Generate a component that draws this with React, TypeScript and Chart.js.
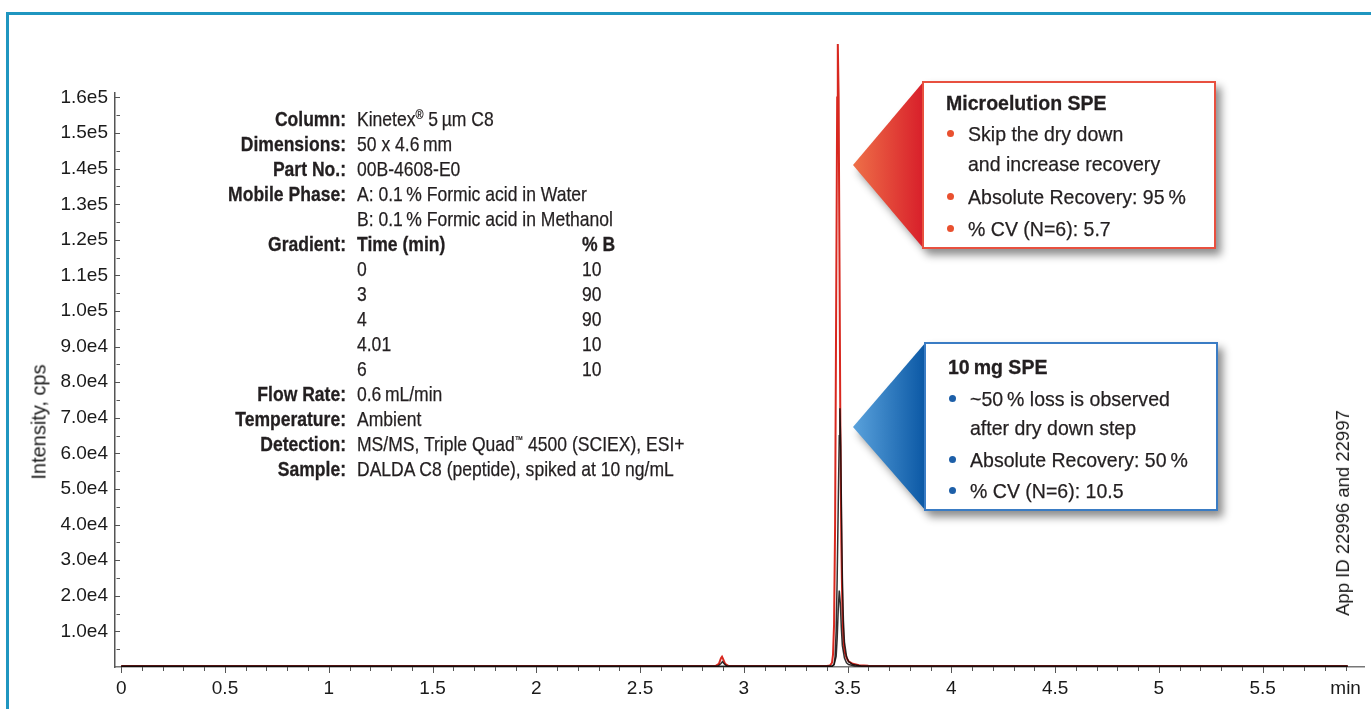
import React, { useEffect, useRef } from "react";
import { Chart, registerables } from "chart.js";
Chart.register(...registerables);

// ---------- data ----------
const microTimes = [0, 2.865, 2.88, 2.89, 2.895, 2.9, 2.91, 2.925, 3.4, 3.415, 3.425, 3.43, 3.435, 3.44, 3.445, 3.45, 3.453, 3.457, 3.461, 3.465, 3.47, 3.475, 3.48, 3.485, 3.495, 3.505, 3.525, 3.555, 3.6, 5.91];
const microValues = [300, 300, 900, 2500, 2900, 2300, 900, 300, 300, 400, 1200, 3500, 12000, 40000, 100000, 160000, 175000, 160000, 115000, 70000, 35000, 16000, 8000, 4500, 2500, 1600, 900, 500, 350, 300];

const spe10aTimes = [0, 2.875, 2.89, 2.897, 2.905, 2.92, 3.425, 3.435, 3.44, 3.445, 3.45, 3.455, 3.46, 3.463, 3.467, 3.471, 3.475, 3.48, 3.485, 3.495, 3.505, 3.525, 3.565, 5.91];
const spe10aValues = [200, 200, 1000, 1500, 900, 200, 200, 800, 3000, 10000, 25000, 45000, 65000, 72700, 62000, 42000, 25000, 13000, 7000, 3000, 1500, 700, 300, 200];

const spe10bTimes = [0, 3.425, 3.435, 3.445, 3.45, 3.455, 3.46, 3.465, 3.47, 3.475, 3.485, 3.495, 3.505, 3.535, 5.91];
const spe10bValues = [200, 200, 600, 3000, 8000, 16000, 21500, 18000, 11000, 6000, 2500, 1200, 700, 300, 200];

// tick positions / labels
const xTickValues = Array.from({ length: 60 }, (_, i) => i / 10); // 0 .. 5.9 every 0.1 min
const xLabelValues = [0, 0.5, 1, 1.5, 2, 2.5, 3, 3.5, 4, 4.5, 5, 5.5];
const xLabelTexts = ["0", "0.5", "1", "1.5", "2", "2.5", "3", "3.5", "4", "4.5", "5", "5.5"];
const xUnitValue = 5.9;
const xUnitText = "min";
const yTickValues = Array.from({ length: 33 }, (_, i) => i * 5000); // 0 .. 160000 every 5000
const yLabelValues = [10000, 20000, 30000, 40000, 50000, 60000, 70000, 80000, 90000, 100000, 110000, 120000, 130000, 140000, 150000, 160000];
const yLabelTexts = ["1.0e4", "2.0e4", "3.0e4", "4.0e4", "5.0e4", "6.0e4", "7.0e4", "8.0e4", "9.0e4", "1.0e5", "1.1e5", "1.2e5", "1.3e5", "1.4e5", "1.5e5", "1.6e5"];

const toPoints = (t: number[], v: number[]) => t.map((x, i) => ({ x, y: v[i] }));

const AXIS_FONT = "'Liberation Sans', Arial, Helvetica, sans-serif";
const TEXT = "#231f20";

const tickMarks = {
  id: "tickMarks",
  afterDraw(chart: any) {
    const { ctx } = chart;
    const x = chart.scales.x;
    const y = chart.scales.y;
    ctx.save();
    ctx.strokeStyle = "#555";
    ctx.lineWidth = 1;
    x.ticks.forEach((t: any) => {
      const px = Math.round(x.getPixelForValue(t.value)) + 0.5;
      const major = Math.abs(t.value * 2 - Math.round(t.value * 2)) < 1e-6;
      ctx.beginPath();
      ctx.moveTo(px, x.top);
      ctx.lineTo(px, x.top + (major ? 6 : 4));
      ctx.stroke();
    });
    y.ticks.forEach((t: any) => {
      if (t.value === 0) return;
      const py = Math.round(y.getPixelForValue(t.value)) + 0.5;
      const major = t.value % 10000 === 0;
      ctx.beginPath();
      ctx.moveTo(y.right + (major ? 0 : 1.5), py);
      ctx.lineTo(y.right + 5, py);
      ctx.stroke();
    });
    ctx.restore();
  },
};

// condensed text: Liberation Sans squeezed horizontally
function T({ x, cy, right, bold, sx, children }: { x: number; cy: number; right?: boolean; bold?: boolean; sx: number; children: React.ReactNode }) {
  const base: React.CSSProperties = {
    position: "absolute", top: cy - 12.5, height: 25, lineHeight: "25px", whiteSpace: "nowrap",
    fontWeight: bold ? 700 : 400, transform: `scaleX(${sx})`,
    WebkitTextStroke: bold ? "0.3px " + TEXT : "0.25px " + TEXT,
  };
  if (right) return <div style={{ ...base, left: x - 1000, width: 1000, textAlign: "right", transformOrigin: "right center" }}>{children}</div>;
  return <div style={{ ...base, left: x, transformOrigin: "left center" }}>{children}</div>;
}

const INFO_SX = 0.835;
const LABEL_X = 346;
const VALUE_X = 357;
const COL2_X = 582;

function Callout(props: {
  left: number; top: number; right: number; bottom: number; tipX: number; tipY: number;
  border: string; gradFrom: string; gradTo: string; dot: string;
  title: string; titleY: number; lines: { y: number; text: string; bullet: boolean }[];
}) {
  const { left, top, right, bottom, tipX, tipY, border, gradFrom, gradTo, dot, title, titleY, lines } = props;
  const SX = 0.93;
  return (
    <>
      <div style={{ position: "absolute", left: 0, top: 0, width: 1371, height: 709, filter: "drop-shadow(5px 6px 4px rgba(0,0,0,0.45))" }}>
        <div
          style={{
            position: "absolute", left: tipX, top: top, width: left - tipX + 2, height: bottom - top,
            background: `linear-gradient(to right, ${gradFrom}, ${gradTo})`,
            clipPath: `polygon(0px ${tipY - top}px, 100% 0px, 100% 100%)`,
          }}
        />
        <div style={{ position: "absolute", left, top, width: right - left, height: bottom - top, boxSizing: "border-box", border: `2px solid ${border}`, background: "#fff" }} />
      </div>
      <T x={left + 24} cy={titleY} bold sx={SX}>{title}</T>
      {lines.map((l, i) => (
        <React.Fragment key={i}>
          {l.bullet && <div style={{ position: "absolute", left: left + 24.5, top: l.y - 3.5, width: 7, height: 7, borderRadius: 3.5, background: dot }} />}
          <T x={left + 46} cy={l.y} sx={SX}>{l.text}</T>
        </React.Fragment>
      ))}
    </>
  );
}

export default function App() {
  const ref = useRef<HTMLCanvasElement>(null);
  useEffect(() => {
    const chart = new Chart(ref.current as HTMLCanvasElement, {
      type: "line",
      data: {
        datasets: [
          { label: "10 mg SPE (a)", data: toPoints(spe10aTimes, spe10aValues), borderColor: "rgba(15,10,10,0.85)", borderWidth: 1.5, pointRadius: 0, tension: 0, clip: false, order: 1 } as any,
          { label: "10 mg SPE (b)", data: toPoints(spe10bTimes, spe10bValues), borderColor: "rgba(15,10,10,0.85)", borderWidth: 1.5, pointRadius: 0, tension: 0, clip: false, order: 1 } as any,
          { label: "Microelution SPE", data: toPoints(microTimes, microValues), borderColor: "#d8281f", borderWidth: 2, pointRadius: 0, tension: 0, clip: false, order: 2 } as any,
        ],
      },
      options: {
        responsive: false,
        animation: false,
        layout: { padding: { top: 93, right: 5, bottom: 0, left: 0 } },
        plugins: { legend: { display: false }, tooltip: { enabled: false } },
        scales: {
          x: {
            type: "linear",
            min: -0.03,
            max: 5.99,
            afterFit: (s: any) => { s.height = 42; },
            afterBuildTicks: (s: any) => { s.ticks = xTickValues.map((v) => ({ value: v })); },
            grid: { display: false, drawTicks: false },
            border: { display: true, color: "#777", width: 1.5 },
            ticks: {
              autoSkip: false, maxRotation: 0, minRotation: 0, padding: 10,
              font: { family: AXIS_FONT, size: 19 }, color: "#1a1a1a",
              callback: (v: any) => {
                const n = Number(v);
                if (Math.abs(n - xUnitValue) < 1e-6) return xUnitText;
                const i = xLabelValues.findIndex((a) => Math.abs(a - n) < 1e-6);
                return i >= 0 ? xLabelTexts[i] : "";
              },
            },
          },
          y: {
            type: "linear",
            min: 0,
            max: 161260,
            afterFit: (s: any) => { s.width = 115; },
            afterBuildTicks: (s: any) => { s.ticks = yTickValues.map((v) => ({ value: v })); },
            grid: { display: false, drawTicks: false },
            border: { display: true, color: "#555", width: 1.5 },
            ticks: {
              autoSkip: false, padding: 7,
              font: { family: AXIS_FONT, size: 19 }, color: "#1a1a1a",
              callback: (v: any) => {
                const i = yLabelValues.indexOf(Math.round(Number(v)));
                return i >= 0 ? yLabelTexts[i] : "";
              },
            },
          },
        },
      },
      plugins: [tickMarks],
    } as any);
    return () => chart.destroy();
  }, []);

  const sup = (s: string, size = 13, top = -7) => <span style={{ fontSize: size, position: "relative", top }}>{s}</span>;

  const infoRows: { label?: string; value: React.ReactNode; bold?: boolean; col2?: string; col2Bold?: boolean }[] = [
    { label: "Column:", value: <>Kinetex{sup("®")} 5{"\u2009"}µm C8</> },
    { label: "Dimensions:", value: "50 x 4.6\u2009mm" },
    { label: "Part No.:", value: "00B-4608-E0" },
    { label: "Mobile Phase:", value: "A: 0.1\u2009% Formic acid in Water" },
    { value: "B: 0.1\u2009% Formic acid in Methanol" },
    { label: "Gradient:", value: "Time (min)", bold: true, col2: "% B", col2Bold: true },
    { value: "0", col2: "10" },
    { value: "3", col2: "90" },
    { value: "4", col2: "90" },
    { value: "4.01", col2: "10" },
    { value: "6", col2: "10" },
    { label: "Flow Rate:", value: "0.6\u2009mL/min" },
    { label: "Temperature:", value: "Ambient" },
    { label: "Detection:", value: <>MS/MS, Triple Quad{sup("™", 10, -8)} 4500 (SCIEX), ESI+</> },
    { label: "Sample:", value: "DALDA C8 (peptide), spiked at 10 ng/mL" },
  ];

  return (
    <div style={{ position: "fixed", left: 0, top: 0, width: 1371, height: 709, background: "#fff", overflow: "hidden", fontFamily: AXIS_FONT, fontSize: 21, color: TEXT }}>
      <div style={{ position: "absolute", left: 6, top: 12, width: 1400, height: 760, border: "3px solid #1f96c0" }} />
      <canvas ref={ref} width={1371} height={709} style={{ position: "absolute", left: 0, top: 0, width: 1371, height: 709 }} />

      <div style={{ position: "absolute", left: 39, top: 422, transform: "translate(-50%,-50%) rotate(-90deg)", fontFamily: AXIS_FONT, fontSize: 20, color: "#1a1a1a", whiteSpace: "nowrap" }}>
        Intensity, cps
      </div>
      <div style={{ position: "absolute", left: 1343, top: 513, transform: "translate(-50%,-50%) rotate(-90deg)", fontFamily: AXIS_FONT, fontSize: 18.5, color: "#1a1a1a", whiteSpace: "nowrap" }}>
        App ID 22996 and 22997
      </div>

      {infoRows.map((r, i) => {
        const cy = 118 + i * 25;
        return (
          <React.Fragment key={i}>
            {r.label && <T x={LABEL_X} cy={cy} right bold sx={INFO_SX}>{r.label}</T>}
            <T x={VALUE_X} cy={cy} bold={r.bold} sx={INFO_SX}>{r.value}</T>
            {r.col2 && <T x={COL2_X} cy={cy} bold={r.col2Bold} sx={INFO_SX}>{r.col2}</T>}
          </React.Fragment>
        );
      })}

      <Callout
        left={922} top={81} right={1216} bottom={249} tipX={853} tipY={165}
        border="#e8503f" gradFrom="#ee7048" gradTo="#d81e2a" dot="#e9502f"
        title="Microelution SPE" titleY={102}
        lines={[
          { y: 133, text: "Skip the dry down", bullet: true },
          { y: 163, text: "and increase recovery", bullet: false },
          { y: 196, text: "Absolute Recovery: 95\u2009%", bullet: true },
          { y: 228, text: "% CV (N=6): 5.7", bullet: true },
        ]}
      />
      <Callout
        left={924} top={342} right={1218} bottom={511} tipX={853} tipY={427}
        border="#3a7cc4" gradFrom="#5aa2dc" gradTo="#0a57a4" dot="#1d5fa8"
        title={"10\u2009mg SPE"} titleY={366}
        lines={[
          { y: 398, text: "~50\u2009% loss is observed", bullet: true },
          { y: 427, text: "after dry down step", bullet: false },
          { y: 459, text: "Absolute Recovery: 50\u2009%", bullet: true },
          { y: 490, text: "% CV (N=6): 10.5", bullet: true },
        ]}
      />
    </div>
  );
}
